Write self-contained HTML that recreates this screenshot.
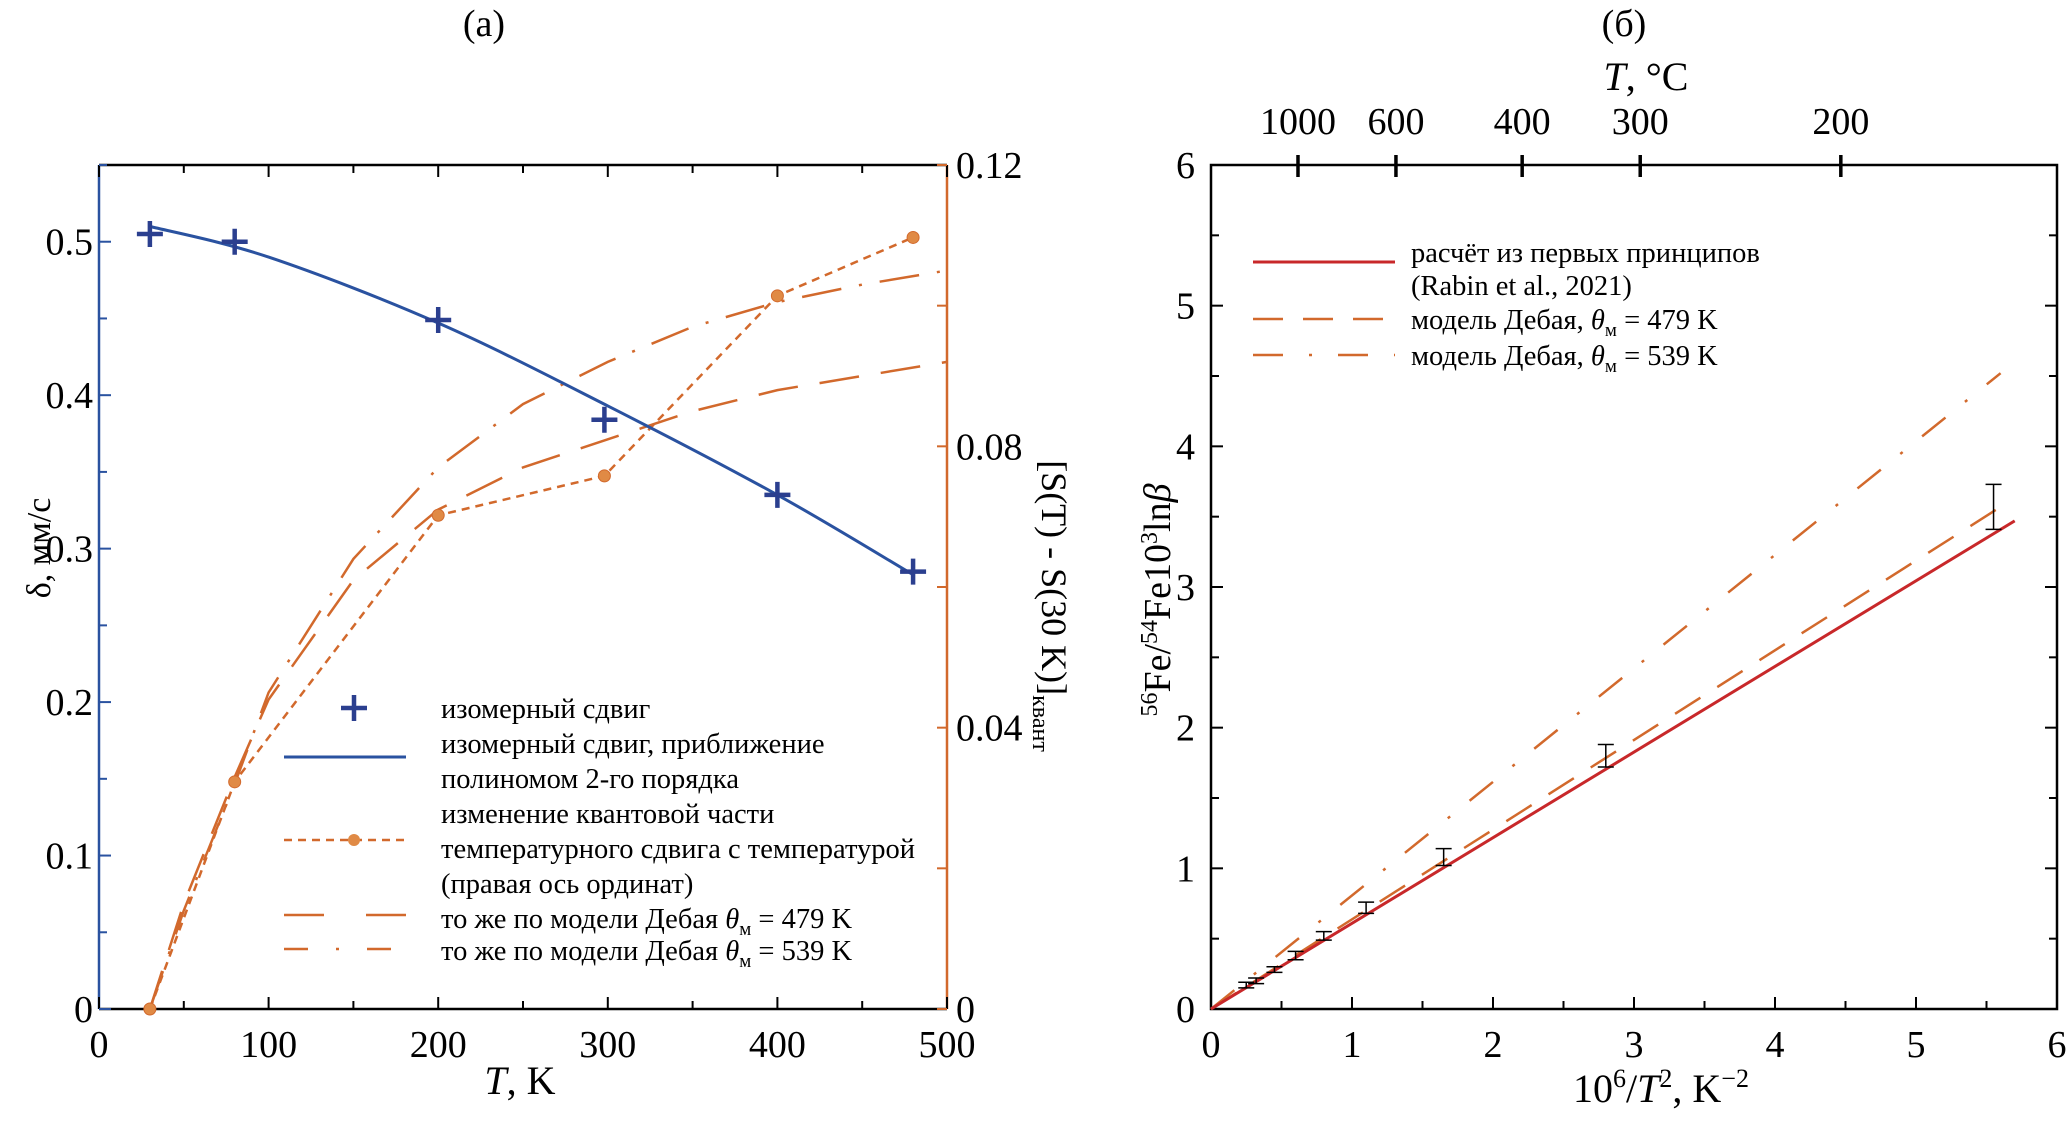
<!DOCTYPE html>
<html><head><meta charset="utf-8"><style>
body{margin:0;background:#fff}
svg{display:block;font-family:"Liberation Serif",serif}
</style></head><body>
<svg id="c" width="2067" height="1142" viewBox="0 0 2067 1142" xmlns="http://www.w3.org/2000/svg"></svg>
<script>
// ---- panel (a) data ----
const isoT = [30, 80, 200, 298, 400, 480];
const isoVal = [0.505, 0.500, 0.449, 0.384, 0.335, 0.285];
const fitT = [30, 100, 200, 300, 400, 480];
const fitVal = [0.510, 0.490, 0.447, 0.393, 0.335, 0.283];
const quantT = [30, 80, 200, 298, 400, 480];
const quantVal = [0, 0.0323, 0.0702, 0.0758, 0.1014, 0.1097];
const debT = [30, 50, 80, 100, 150, 200, 250, 300, 350, 400, 450, 500];
const deb479 = [0, 0.015, 0.033, 0.044, 0.061, 0.071, 0.077, 0.081, 0.085, 0.088, 0.090, 0.092];
const deb539 = [0, 0.014, 0.032, 0.045, 0.064, 0.077, 0.086, 0.092, 0.097, 0.1005, 0.103, 0.105];
const aXTicks = [0, 100, 200, 300, 400, 500];
const aYTicks = [0, 0.1, 0.2, 0.3, 0.4, 0.5];
const aYLabels = ["0", "0.1", "0.2", "0.3", "0.4", "0.5"];
const aY2Ticks = [0, 0.04, 0.08, 0.12];
const aY2Labels = ["0", "0.04", "0.08", "0.12"];
// ---- panel (б) data ----
const bXTicks = [0, 1, 2, 3, 4, 5, 6];
const bYTicks = [0, 1, 2, 3, 4, 5, 6];
const topTC = [1000, 600, 400, 300, 200];
const lineX = [0, 5.7];
const abInitio = [0, 3.47];
const lineX479 = [0, 5.6];
const b479 = [0, 3.57];
const lineX539 = [0, 5.6];
const b539 = [0, 4.52];
const errX = [0.25, 0.32, 0.45, 0.6, 0.8, 1.1, 1.65, 2.8, 5.55];
const errY = [0.17, 0.20, 0.28, 0.38, 0.52, 0.72, 1.08, 1.80, 3.57];
const errE = [0.02, 0.02, 0.02, 0.03, 0.03, 0.04, 0.06, 0.08, 0.16];

const NS = "http://www.w3.org/2000/svg";
const svg = document.getElementById('c');
function mk(tag, attrs, parent, text) {
  const e = document.createElementNS(NS, tag);
  for (const k in attrs) e.setAttribute(k, attrs[k]);
  if (text !== undefined) e.textContent = text;
  (parent || svg).appendChild(e);
  return e;
}
const OR = "#d2692c", BL = "#2a52a0", RD = "#c8282a";
const TF = 38, LF = 28.5;

// ===== panel a axes =====
const aL = 99, aR = 947, aT = 165, aB = 1009;
const ax = t => aL + t / 500 * (aR - aL);
const ay = v => aB - v / 0.55 * (aB - aT);
const ay2 = v => aB - v / 0.12 * (aB - aT);

let e;
e = mk('text', {x: 484, y: 36, 'font-size': TF, 'text-anchor': 'middle'}, svg, '(a)');
 

e = mk('line', {x1: aL, y1: aT, x2: aR, y2: aT, stroke: '#000', 'stroke-width': 2.5});
 
e = mk('line', {x1: aL, y1: aB, x2: aR, y2: aB, stroke: '#000', 'stroke-width': 2.5});
 
e = mk('line', {x1: aL, y1: aT, x2: aL, y2: aB, stroke: BL, 'stroke-width': 2.5});
 
e = mk('line', {x1: aR, y1: aT, x2: aR, y2: aB, stroke: OR, 'stroke-width': 2.5});
 

for (let t = 0; t <= 500; t += 50) {
  const L = t % 100 === 0 ? 12 : 8;
  mk('line', {x1: ax(t), y1: aB, x2: ax(t), y2: aB - L, stroke: '#000', 'stroke-width': 2});
  mk('line', {x1: ax(t), y1: aT, x2: ax(t), y2: aT + L, stroke: '#000', 'stroke-width': 2});
}
aXTicks.forEach(t => {
  e = mk('text', {x: ax(t), y: 1057, 'font-size': TF, 'text-anchor': 'middle'}, svg, String(t));
   
});
for (let v = 0; v <= 0.551; v += 0.05) {
  mk('line', {x1: aL, y1: ay(v), x2: aL + (Math.round(v * 100) % 10 === 0 ? 12 : 8), y2: ay(v), stroke: BL, 'stroke-width': 2});
}
aYTicks.forEach((v, i) => {
  e = mk('text', {x: 93, y: ay(v) + 13, 'font-size': TF, 'text-anchor': 'end'}, svg, aYLabels[i]);
   
});
for (let v = 0; v <= 0.1201; v += 0.02) {
  mk('line', {x1: aR, y1: ay2(v), x2: aR - 10, y2: ay2(v), stroke: OR, 'stroke-width': 2});
}
aY2Ticks.forEach((v, i) => {
  e = mk('text', {x: 956, y: ay2(v) + 13, 'font-size': TF}, svg, aY2Labels[i]);
   
});
e = mk('text', {x: 0, y: 0, 'font-size': 34, 'text-anchor': 'middle', transform: 'translate(50,548) rotate(-90)'}, svg, 'δ, мм/с');
 
e = mk('text', {x: 0, y: 0, 'font-size': 36, 'text-anchor': 'middle', transform: 'translate(1042,606) rotate(90)'}, svg);
e.innerHTML = '[S(T) - S(30 K)]<tspan font-size="24" dy="9">квант</tspan>';
 
e = mk('text', {x: 520, y: 1094, 'font-size': 40, 'text-anchor': 'middle'}, svg);
e.innerHTML = '<tspan font-style="italic">T</tspan>, K';
 

function poly(xs, ys, fx, fy) { return xs.map((x, i) => fx(x).toFixed(1) + ',' + fy(ys[i]).toFixed(1)).join(' '); }

e = mk('polyline', {points: poly(debT, deb479, ax, ay2), fill: 'none', stroke: OR, 'stroke-width': 2.5, 'stroke-dasharray': '40 22'});
 
e = mk('polyline', {points: poly(debT, deb539, ax, ay2), fill: 'none', stroke: OR, 'stroke-width': 2.5, 'stroke-dasharray': '40 18 3 18'});
 
e = mk('polyline', {points: poly(quantT, quantVal, ax, ay2), fill: 'none', stroke: OR, 'stroke-width': 2.5, 'stroke-dasharray': '8 6'});
 
quantT.forEach((t, i) => {
  e = mk('circle', {cx: ax(t), cy: ay2(quantVal[i]), r: 6, fill: '#e08a45', stroke: OR, 'stroke-width': 1});
   
});
(function () {
  const P = fitT.map((t, i) => [ax(t), ay(fitVal[i])]);
  let d = 'M' + P[0][0] + ',' + P[0][1];
  for (let i = 0; i < P.length - 1; i++) {
    const p0 = P[Math.max(0, i - 1)], p1 = P[i], p2 = P[i + 1], p3 = P[Math.min(P.length - 1, i + 2)];
    const c1 = [p1[0] + (p2[0] - p0[0]) / 6, p1[1] + (p2[1] - p0[1]) / 6];
    const c2 = [p2[0] - (p3[0] - p1[0]) / 6, p2[1] - (p3[1] - p1[1]) / 6];
    d += ' C' + c1.join(',') + ' ' + c2.join(',') + ' ' + p2.join(',');
  }
  e = mk('path', {d: d, fill: 'none', stroke: BL, 'stroke-width': 3});
   
})();
isoT.forEach((t, i) => {
  const x = ax(t), y = ay(isoVal[i]);
  e = mk('path', {d: `M${x - 13},${y}H${x + 13}M${x},${y - 13}V${y + 13}`, stroke: '#2b3f8f', 'stroke-width': 4.5, fill: 'none'});
   
});

// legend a
const lg = mk('g', {});
 
const aLegTxt = ['изомерный сдвиг', 'изомерный сдвиг, приближение', 'полиномом 2-го порядка', 'изменение квантовой части', 'температурного сдвига с температурой', '(правая ось ординат)'];
const aLegY = [718, 753, 788, 823, 858, 893];
aLegTxt.forEach((s, i) => { e = mk('text', {x: 441, y: aLegY[i], 'font-size': LF}, lg, s);   });
e = mk('text', {x: 441, y: 928, 'font-size': LF}, lg); e.innerHTML = 'то же по модели Дебая <tspan font-style="italic">θ</tspan><tspan font-size="19" dy="7">м</tspan><tspan dy="-7"> = 479 K</tspan>';
 
e = mk('text', {x: 441, y: 960, 'font-size': LF}, lg); e.innerHTML = 'то же по модели Дебая <tspan font-style="italic">θ</tspan><tspan font-size="19" dy="7">м</tspan><tspan dy="-7"> = 539 K</tspan>';
 
mk('path', {d: 'M341,708H367M354,695V721', stroke: '#2b3f8f', 'stroke-width': 4.5}, lg);
mk('line', {x1: 284, y1: 757, x2: 406, y2: 757, stroke: BL, 'stroke-width': 3}, lg);
mk('line', {x1: 284, y1: 840, x2: 406, y2: 840, stroke: OR, 'stroke-width': 2.5, 'stroke-dasharray': '8 6'}, lg);
mk('circle', {cx: 354, cy: 840, r: 6, fill: '#e08a45'}, lg);
mk('line', {x1: 284, y1: 915, x2: 406, y2: 915, stroke: OR, 'stroke-width': 2.5, 'stroke-dasharray': '40 42'}, lg);
mk('line', {x1: 284, y1: 949, x2: 406, y2: 949, stroke: OR, 'stroke-width': 2.5, 'stroke-dasharray': '24 28 3 28'}, lg);

// ===== panel б =====
const bL = 1211, bR = 2057, bT = 165, bB = 1009;
const bx = v => bL + v / 6 * (bR - bL);
const by = v => bB - v / 6 * (bB - bT);

e = mk('text', {x: 1624, y: 36, 'font-size': TF, 'text-anchor': 'middle'}, svg, '(б)');
 
e = mk('rect', {x: bL, y: bT, width: bR - bL, height: bB - bT, fill: 'none', stroke: '#000', 'stroke-width': 2.5});
 
for (let v = 0; v <= 6.001; v += 0.5) {
  const L = Math.abs(v - Math.round(v)) < 0.01 ? 12 : 8;
  mk('line', {x1: bx(v), y1: bB, x2: bx(v), y2: bB - L, stroke: '#000', 'stroke-width': 2});
  mk('line', {x1: bL, y1: by(v), x2: bL + L, y2: by(v), stroke: '#000', 'stroke-width': 2});
  mk('line', {x1: bR, y1: by(v), x2: bR - L, y2: by(v), stroke: '#000', 'stroke-width': 2});
}
bXTicks.forEach(v => { e = mk('text', {x: bx(v), y: 1057, 'font-size': TF, 'text-anchor': 'middle'}, svg, String(v));   });
bYTicks.forEach(v => { e = mk('text', {x: 1195, y: by(v) + 13, 'font-size': TF, 'text-anchor': 'end'}, svg, String(v));   });
topTC.forEach(c => {
  const v = 1e6 / Math.pow(c + 273.15, 2);
  mk('line', {x1: bx(v), y1: bT - 10, x2: bx(v), y2: bT + 12, stroke: '#000', 'stroke-width': 3.5});
  e = mk('text', {x: bx(v), y: 134, 'font-size': TF, 'text-anchor': 'middle'}, svg, String(c));
   
});
e = mk('text', {x: 1646, y: 90, 'font-size': 40, 'text-anchor': 'middle'}, svg); e.innerHTML = '<tspan font-style="italic">T</tspan>, °C';
 
e = mk('text', {x: 1661, y: 1102, 'font-size': 40, 'text-anchor': 'middle'}, svg);
e.innerHTML = '10<tspan font-size="26" dy="-15">6</tspan><tspan dy="15">/</tspan><tspan font-style="italic">T</tspan><tspan font-size="26" dy="-15">2</tspan><tspan dy="15">, K</tspan><tspan font-size="26" dy="-15">−2</tspan>';
 
e = mk('text', {x: 0, y: 0, 'font-size': 38, 'text-anchor': 'middle', transform: 'translate(1170,600) rotate(-90)'}, svg);
e.innerHTML = '<tspan font-size="24" dy="-13">56</tspan><tspan dy="13">Fe/</tspan><tspan font-size="24" dy="-13">54</tspan><tspan dy="13">Fe10</tspan><tspan font-size="24" dy="-13">3</tspan><tspan dy="13">ln</tspan><tspan font-style="italic">β</tspan>';
 

e = mk('line', {x1: bx(lineX539[0]), y1: by(b539[0]), x2: bx(lineX539[1]), y2: by(b539[1]), stroke: OR, 'stroke-width': 2.5, 'stroke-dasharray': '30 25 3 25'});
 
e = mk('line', {x1: bx(lineX479[0]), y1: by(b479[0]), x2: bx(lineX479[1]), y2: by(b479[1]), stroke: OR, 'stroke-width': 2.5, 'stroke-dasharray': '30 20'});
 
e = mk('line', {x1: bx(lineX[0]), y1: by(abInitio[0]), x2: bx(lineX[1]), y2: by(abInitio[1]), stroke: RD, 'stroke-width': 3});
 
errX.forEach((x, i) => {
  const X = bx(x), y1 = by(errY[i] + errE[i]), y2 = by(errY[i] - errE[i]);
  e = mk('path', {d: `M${X},${y1}V${y2}M${X - 8},${y1}H${X + 8}M${X - 8},${y2}H${X + 8}`, stroke: '#000', 'stroke-width': 1.5, fill: 'none'});
   
});

const lg2 = mk('g', {});
 
mk('line', {x1: 1253, y1: 262, x2: 1395, y2: 262, stroke: RD, 'stroke-width': 3}, lg2);
mk('line', {x1: 1253, y1: 319, x2: 1395, y2: 319, stroke: OR, 'stroke-width': 2.5, 'stroke-dasharray': '30 20'}, lg2);
mk('line', {x1: 1253, y1: 355, x2: 1395, y2: 355, stroke: OR, 'stroke-width': 2.5, 'stroke-dasharray': '30 26 3 26'}, lg2);
e = mk('text', {x: 1411, y: 262, 'font-size': LF}, lg2, 'расчёт из первых принципов');  
e = mk('text', {x: 1411, y: 295, 'font-size': LF}, lg2, '(Rabin et al., 2021)');  
e = mk('text', {x: 1411, y: 329, 'font-size': LF}, lg2); e.innerHTML = 'модель Дебая, <tspan font-style="italic">θ</tspan><tspan font-size="19" dy="7">м</tspan><tspan dy="-7"> = 479 K</tspan>';
 
e = mk('text', {x: 1411, y: 365, 'font-size': LF}, lg2); e.innerHTML = 'модель Дебая, <tspan font-style="italic">θ</tspan><tspan font-size="19" dy="7">м</tspan><tspan dy="-7"> = 539 K</tspan>';
 
</script>
</body></html>
